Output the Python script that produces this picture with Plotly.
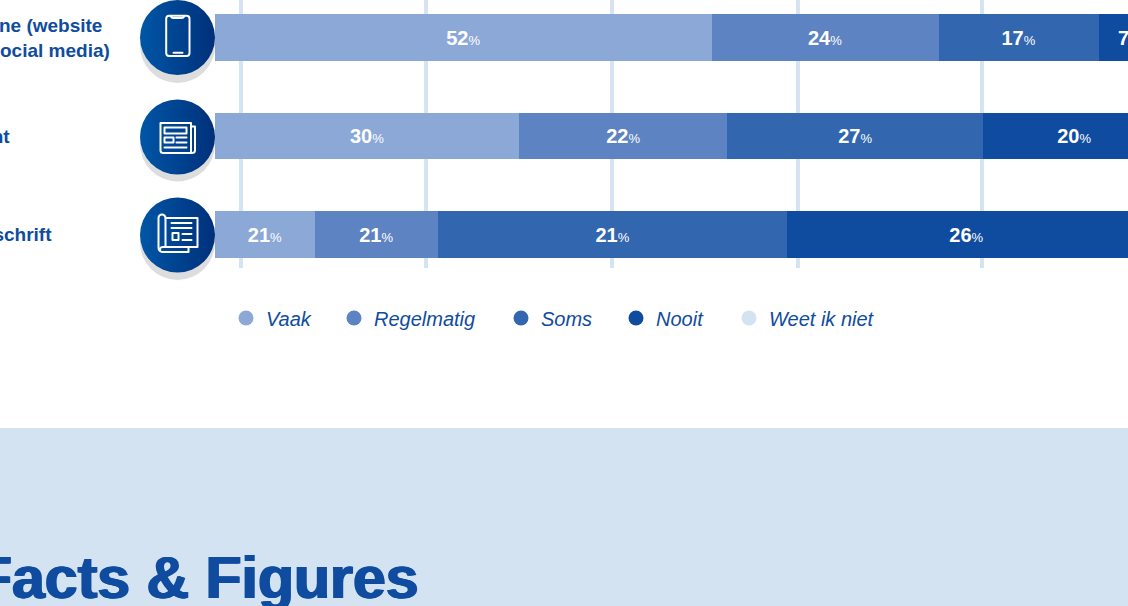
import base64
import plotly.graph_objects as go

# The reference is a crop of a wider chart: the figure runs past the right edge of the window.
W, H = 1320, 606
CATEGORIES = ["Online (website<br>en social media)", "Krant", "Tijdschrift"]
SERIES = ["Vaak", "Regelmatig", "Soms", "Nooit", "Weet ik niet"]
VAAK = [53.4, 32.7, 10.75]
REGELMATIG = [24.4, 22.4, 13.2]
SOMS = [17.2, 27.5, 37.6]
NOOIT = [6.7, 19.6, 38.5]
WEET = [0, 1, 11]
LABELS = [[52, 30, 21], [24, 22, 21], [17, 27, 21], [7, 20, 26], [None, None, None]]
COLORS = ["#8CA8D7", "#5E83C2", "#3267B0", "#0F4C9F", "#D4E3F1"]
GRID = [2.8, 22.7, 42.7, 62.7, 82.5]
BLUE = "#0F4C9F"
FONT = "Liberation Sans"

PXU = 9.3
X0 = 215
rows = [0, 1, 2]
fig = go.Figure()

for name, vals, labs, col in zip(SERIES, [VAAK, REGELMATIG, SOMS, NOOIT, WEET], LABELS, COLORS):
    text = [f'<b>{l}</b><span style="font-size:13px">%</span>' if l is not None else "" for l in labs]
    fig.add_trace(go.Bar(y=rows, x=vals, orientation="h", marker=dict(color=col, line_width=0), name=name,
                         text=text, textposition="inside", insidetextanchor="middle", constraintext="none",
                         textangle=0, textfont=dict(color="white", size=20, family=FONT), showlegend=False,
                         hoverinfo="skip"))

ICON_X = -4.03
fig.add_trace(go.Scatter(x=[ICON_X] * 3, y=[r + 0.08 for r in rows], mode="markers", showlegend=False,
                         cliponaxis=False, hoverinfo="skip",
                         marker=dict(size=75, color="#DDDDDD", line_width=0)))
fig.add_trace(go.Scatter(x=[ICON_X] * 3, y=[r + o for r, o in zip(rows, [0, 0.01, 0.005])], mode="markers",
                         showlegend=False, cliponaxis=False, hoverinfo="skip",
                         marker=dict(size=75, color="#0056A6", line_width=0,
                                     gradient=dict(type="horizontal", color="#00307A"))))

LEGEND_PX = [226, 334, 501, 616, 729]
legends = {}
for i, (name, col, lx) in enumerate(zip(SERIES, COLORS, LEGEND_PX)):
    key = "legend" if i == 0 else f"legend{i + 1}"
    fig.add_trace(go.Scatter(x=[None], y=[None], mode="markers", name=name, legend=key, showlegend=True,
                             marker=dict(size=15, color=col, line_width=0)))
    legends[key] = dict(orientation="h", x=lx / W, xanchor="left", y=1 - 318 / H, yanchor="middle",
                        bgcolor="rgba(0,0,0,0)", font=dict(family=FONT, size=20, color=BLUE, style="italic"))

S = 'fill="none" stroke="white" stroke-width="2" stroke-linejoin="round" stroke-linecap="round"'
def svg(body):
    s = f'<svg xmlns="http://www.w3.org/2000/svg" viewBox="0 0 60 60" width="60" height="60"><g {S}>{body}</g></svg>'
    return "data:image/svg+xml;base64," + base64.b64encode(s.encode()).decode()

PHONE = svg('<rect x="18.7" y="8.2" width="23.3" height="40.3" rx="3"/><path d="M23 8.5 q1 2 3 2 h8 q2 0 3 -2"/>'
            '<path d="M26 45.2 H35" stroke-width="2"/>')
PAPER = svg('<path d="M13 15.5 H43.5 V45.5 H16 Q13 45.5 13 43 Z"/><path d="M43.5 19 H47.5 V43 Q47.5 45.5 44 45.5"/>'
            '<rect x="17" y="20" width="22" height="6"/><rect x="17" y="30" width="9" height="5"/>'
            '<path d="M29 30 H39 M29 35 H39 M17 40 H39"/>')
SCROLL = svg('<path d="M18 42 V13 a3.5 3.5 0 0 0 -7 0 V43 a4 4 0 0 0 4 4 H41 V42 H15 a2.5 2.5 0 0 0 -2 4"/>'
             '<path d="M18 13 H50 V42 H41"/><path d="M24 18 H44 M24 23 H44 M35 29 H44 M35 35 H44"/>'
             '<rect x="25" y="28" width="6" height="7"/>')

images = []
for src, cy in zip([PHONE, PAPER, SCROLL], [37.5, 137.5, 235]):
    images.append(dict(source=src, xref="paper", yref="paper", x=147.5 / W, y=1 - (cy - 30) / H,
                       sizex=60 / W, sizey=60 / H, xanchor="left", yanchor="top", sizing="stretch", layer="above"))

annotations = []
for cat, cy, left in zip(CATEGORIES, [38, 136.5, 234.5], [-40, -42, -42]):
    annotations.append(dict(text=f"<b>{cat}</b>", xref="paper", yref="paper", x=left / W, y=1 - cy / H,
                            xanchor="left", yanchor="middle", align="left", showarrow=False,
                            font=dict(family=FONT, size=19, color=BLUE)))
annotations.append(dict(text="<b>Facts &amp; Figures</b>", xref="paper", yref="paper", x=-26 / W, y=1 - 578 / H,
                        xanchor="left", yanchor="middle", showarrow=False,
                        font=dict(family=FONT, size=59, color=BLUE,
                                  shadow="1px 0 0 #0F4C9F, -1px 0 0 #0F4C9F")))

fig.update_layout(
    width=W, height=H, margin=dict(l=0, r=0, t=0, b=0), autosize=False,
    paper_bgcolor="white", plot_bgcolor="rgba(0,0,0,0)",
    barmode="stack", bargap=1 - 46.3 / 98.5,
    xaxis=dict(range=[-X0 / PXU, (W - X0) / PXU], domain=[0, 1], tickvals=GRID, showticklabels=False, ticks="",
               showgrid=True, gridcolor="#D6E4F2", gridwidth=4, zeroline=False, showline=False),
    yaxis=dict(range=[(268 - 37.5) / 98.5, -37.5 / 98.5], domain=[1 - 268 / H, 1], tickvals=rows,
               showticklabels=False, ticks="", showgrid=False, zeroline=False, showline=False),
    shapes=[dict(type="rect", xref="paper", yref="paper", x0=0, x1=1, y0=0, y1=(H - 428) / H,
                 fillcolor="#D4E3F1", line_width=0, layer="below")],
    images=images, annotations=annotations,
    **legends,
)
fig.write_html("out.html", config=dict(displayModeBar=False),
               post_script="document.body.style.margin='0';document.body.style.overflow='hidden';")
